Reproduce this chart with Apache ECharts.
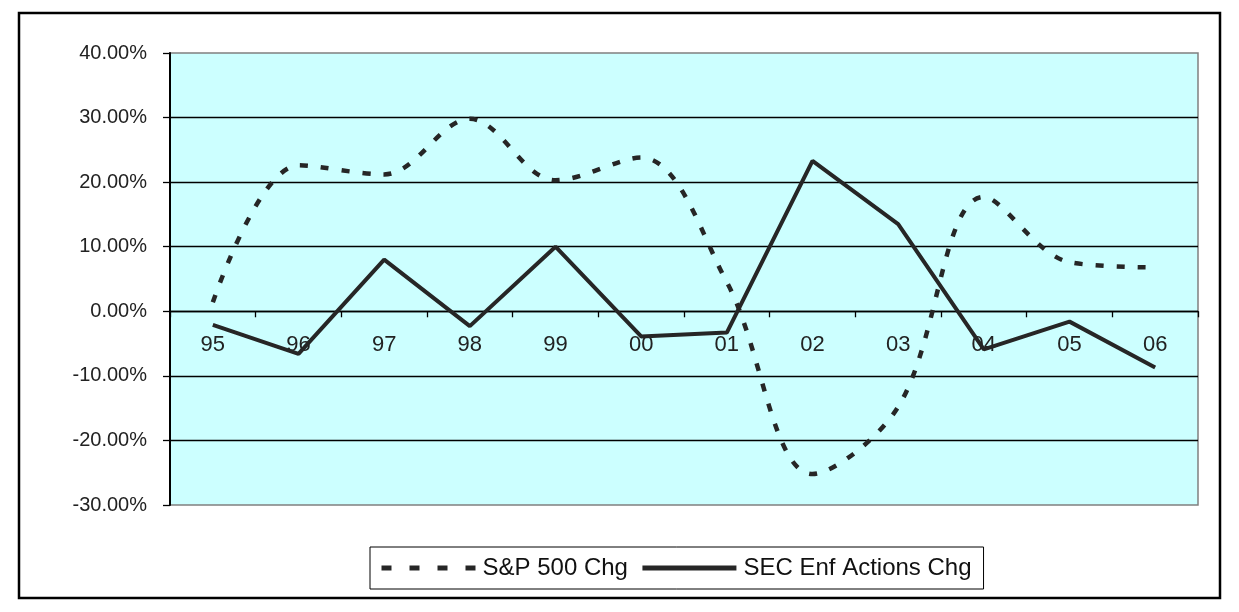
<!DOCTYPE html>
<html>
<head>
<meta charset="utf-8">
<script src="https://cdn.jsdelivr.net/npm/echarts@6/dist/echarts.min.js"></script>
<style>html,body{margin:0;padding:0;background:#fff}#c{width:1239px;height:612px}</style>
</head>
<body>
<div id="c"></div>
<script>
var years = ['95','96','97','98','99','00','01','02','03','04','05','06'];
var spChg = [1.4, 22.6, 21.2, 29.8, 20.3, 23.8, 4.5, -25.2, -14.8, 17.7, 7.6, 6.8];
var secChg = [-2.1, -6.6, 8.0, -2.3, 10.0, -3.9, -3.3, 23.3, 13.5, -5.9, -1.6, -8.7];
var yTicks = {min: -30, max: 40, step: 10};

var chart = echarts.init(document.getElementById('c'));
chart.setOption({
  animation: false,
  backgroundColor: '#ffffff',
  graphic: [{
    type: 'rect',
    shape: {x: 19, y: 13, width: 1201, height: 585},
    style: {fill: 'none', stroke: '#000', lineWidth: 2.5},
    silent: true, z: -1
  }],
  grid: {
    left: 170, right: 41, top: 53, bottom: 107,
    show: true, backgroundColor: '#CCFFFF', borderColor: '#808080', borderWidth: 1.5
  },
  legend: {
    left: 370, top: 547,
    itemWidth: 94, itemHeight: 14, itemGap: 12,
    padding: [9, 12, 9, 9],
    borderColor: '#000', borderWidth: 1, backgroundColor: '#fff',
    itemStyle: {opacity: 0},
    textStyle: {fontFamily: 'Liberation Sans, Arial', fontSize: 24, color: '#111', padding: [0,0,0,2]},
    data: [
      {name: 'S&P 500 Chg', lineStyle: {width: 5, type: [10, 18], color: '#262626'}},
      {name: 'SEC Enf Actions Chg', lineStyle: {width: 5, color: '#262626'}}
    ]
  },
  xAxis: {
    type: 'category', data: years, boundaryGap: true,
    axisLine: {onZero: true, lineStyle: {color: '#000', width: 1.3}},
    axisTick: {show: true, length: 6, lineStyle: {color: '#000', width: 1.3}},
    axisLabel: {margin: -171, fontFamily: 'Liberation Sans, Arial', fontSize: 22, color: '#222'}
  },
  yAxis: {
    type: 'value', min: yTicks.min, max: yTicks.max, interval: yTicks.step,
    axisLine: {show: true, lineStyle: {color: '#000', width: 2}},
    axisTick: {show: true, length: 7, lineStyle: {color: '#000', width: 1.3}},
    axisLabel: {margin: 23, fontFamily: 'Liberation Sans, Arial', fontSize: 20, color: '#222',
      formatter: function (v) { return v.toFixed(2) + '%'; }},
    splitLine: {show: true, showMinLine: false, showMaxLine: false, lineStyle: {color: '#000', width: 1.3}}
  },
  series: [
    {
      name: 'S&P 500 Chg', type: 'line', data: spChg, smooth: 0.35,
      symbol: 'none',
      lineStyle: {color: '#262626', width: 4.5, type: [8, 13]},
      itemStyle: {color: '#262626'}
    },
    {
      name: 'SEC Enf Actions Chg', type: 'line', data: secChg, smooth: false,
      symbol: 'none',
      lineStyle: {color: '#262626', width: 4},
      itemStyle: {color: '#262626'}
    }
  ]
});
</script>
</body>
</html>
